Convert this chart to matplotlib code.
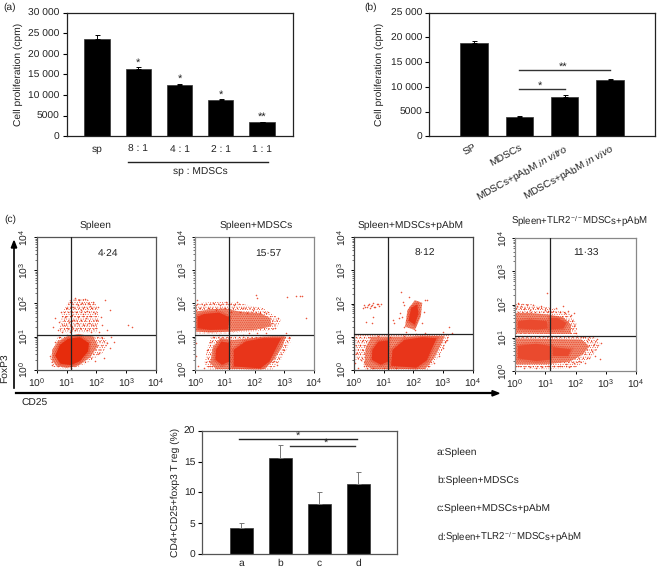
import matplotlib
matplotlib.use('Agg')
import matplotlib.pyplot as plt

plt.rcParams['font.family'] = ['Liberation Sans', 'DejaVu Sans']
plt.rcParams['font.size'] = 7.4
plt.rcParams['text.hinting'] = 'none'
plt.rcParams['mathtext.fontset'] = 'custom'
plt.rcParams['mathtext.rm'] = 'Liberation Sans'
plt.rcParams['mathtext.it'] = 'Liberation Sans:italic'
plt.rcParams['mathtext.default'] = 'rm'
plt.rcParams['hatch.linewidth'] = 0.3

W, H = 657, 570
TXT = '#222222'
RED = '#e62c0c'

# panel a
a_labels = ['sp', '8 : 1', '4 : 1', '2 : 1', '1 : 1']
a_values = [23700, 16400, 12450, 8800, 3450]
a_errors = [800, 300, 250, 200, 100]
a_stars = ['', '*', '*', '*', '**']
a_ticks = [0, 5000, 10000, 15000, 20000, 25000, 30000]
a_ticklabels = ['0', '5000', '10 000', '15 000', '20 000', '25 000', '30 000']

# panel b
b_labels = ['SP', 'MDSCs', r'MDSCs+pAbM $\mathit{in\ vitro}$', r'MDSCs+pAbM $\mathit{in\ vivo}$']
b_values = [18850, 3950, 7900, 11300]
b_errors = [500, 200, 450, 200]
b_ticks = [0, 5000, 10000, 15000, 20000, 25000]
b_ticklabels = ['0', '5000', '10 000', '15 000', '20 000', '25 000']

# bottom panel
d_labels = ['a', 'b', 'c', 'd']
d_values = [4.2, 15.6, 8.1, 11.3]
d_errors = [0.9, 2.1, 1.9, 2.0]
d_legend = ['a:Spleen', 'b:Spleen+MDSCs', 'c:Spleen+MDSCs+pAbM', 'd:Spleen+TLR2$^{-/-}$MDSCs+pAbM']

# flow panels, traced by eye as (log10 CD25, log10 FoxP3)
# clouds are outlines at three densities, stray events are single dots
p1_sparse = [[(.75,1.12),(.85,1.7),(1.1,2.1),(1.6,2.15),(2,2),(2.1,1.5),(2,1.12)],
             [(.45,.3),(.55,.1),(.8,.03),(1.2,.03),(1.7,.2),(2.2,.5),(2.4,.8),(2.2,1.05),(1.3,1.05),(.7,1)]]
p1_mid = [[(.5,.3),(.65,.12),(1,.05),(1.4,.12),(1.8,.38),(2.05,.72),(1.9,1),(1.4,1.08),(1,1),(.7,.85),(.52,.6)]]
p1_core = [[(.62,.42),(.8,.18),(1.15,.14),(1.45,.26),(1.72,.55),(1.75,.8),(1.45,.98),(1.05,.93),(.78,.75)]]
p1_dots = [(.55,1.3),(.6,1.55),(.7,1.2),(.75,1.45),(.8,1.75),(.85,1.15),(.9,1.35),(.95,1.6),(1,1.25),(1.02,1.85),
           (1.08,1.45),(1.1,1.15),(1.12,2.05),(1.18,1.65),(1.2,1.3),(1.22,1.9),(1.25,1.5),(1.28,2.15),(1.3,1.2),
           (1.32,1.75),(1.35,1.4),(1.38,1.95),(1.4,1.6),(1.42,2.1),(1.45,1.25),(1.48,1.8),(1.5,1.5),(1.52,2),
           (1.55,1.68),(1.58,1.35),(1.6,1.9),(1.62,2.12),(1.65,1.55),(1.68,1.2),(1.7,1.78),(1.72,2.02),(1.75,1.42),
           (1.78,1.92),(1.8,1.62),(1.82,1.15),(1.85,1.85),(1.88,1.35),(1.9,2.05),(1.95,1.7),(2,1.5),(2,1.25),(2.05,1.9),
           (2.1,1.15),(2.15,1.6),(2.2,1.35),(2.3,2.1),(2.35,1.2),(2.45,1.8),(2.5,1),(2.2,.95),(2.35,.8),(2.45,.65),
           (2.6,.85),(2.1,.5),(2.25,.35),(1.95,.25),(3.05,1.35),(3.2,1.28),(.5,.15),(.45,.4),(.62,.85),(.75,1),(1,1.05)]

p2_sparse = [[(0,1.1),(1.2,1.1),(2.7,1.2),(2.9,1.5),(2.3,1.85),(1.5,2),(.8,2.05),(0,2)],
             [(.3,.15),(.5,0),(2.6,0),(2.9,.3),(3.2,.8),(3.3,1.05),(.55,1.05),(.4,.6)]]
p2_mid = [[(0,1.15),(.5,1.12),(1.2,1.15),(2,1.2),(2.55,1.3),(2.55,1.55),(2.2,1.7),(1.5,1.75),(1,1.85),(.5,1.82),(0,1.75)],
          [(.5,.2),(.7,.02),(2.35,.02),(2.65,.3),(2.95,.7),(3.05,1),(2.6,1),(1.9,.95),(1.3,.9),(.85,.95),(.6,.7)]]
p2_core = [[(.08,1.25),(.5,1.2),(1.1,1.22),(1.15,1.58),(.8,1.72),(.3,1.68),(.08,1.6)],
           [(1.3,.1),(2.2,.04),(2.5,.25),(2.9,.95),(2.3,.95),(1.7,.85),(1.3,.6)],
           [(.68,.3),(.9,.15),(1.15,.25),(1.15,.8),(.88,.85),(.7,.6)]]
p2_dots = [(.03,1.8),(.05,2.1),(.04,1.95),(.15,1.85),(.3,1.95),(.45,1.85),(.6,2),(.7,1.8),(.85,1.95),(1,1.85),(1.05,2.05),
           (1.2,1.75),(1.3,1.95),(1.4,2.05),(1.5,1.75),(1.6,1.85),(1.75,1.7),(1.95,1.8),(2.05,2.25),(2.07,2.15),(2.2,1.7),(2.4,1.72),
           (2.6,1.4),(2.7,1.25),(2.8,1.55),(3.05,1.1),(3.1,2.2),(3.4,2.22),(3.55,2.23),(3.62,2.22),(3.75,1.55),
           (.3,.05),(.1,.1),(.5,.1),(.4,.6),(.45,.25),(.5,.85),(.6,1),(.8,1.05),(1.15,1),(1.6,1.05),(1.8,1.1),(2.1,1.1),(2.4,1.1),
           (.03,.4),(.02,.8),(2.75,.15),(2.65,.25),(3,.6),(3.15,.95)]

p3_sparse = [[(.25,.3),(.4,0),(2.5,0),(2.85,.4),(3.2,.95),(3.2,1.08),(.05,1.05),(.02,.3)]]
p3_mid = [[(1.72,1.3),(2.05,1.2),(2.25,1.6),(2.3,2.02),(2.05,2.1),(1.8,1.8)],
          [(.35,.15),(.6,.02),(2.4,.02),(2.7,.35),(2.98,.85),(3.05,1.02),(2.5,1.02),(1.7,1),(.6,1),(.4,.7)]]
p3_core = [[(1.84,1.48),(2.05,1.36),(2.17,1.7),(2.13,1.97),(1.93,1.87)],
           [(1.25,.12),(2.1,.06),(2.45,.28),(2.78,.95),(2.3,.98),(1.7,.9),(1.3,.6)],
           [(.6,.3),(.9,.15),(1.15,.25),(1.15,.88),(.82,.85),(.62,.6)]]
p3_dots = [(.3,1.85),(.35,1.95),(.45,1.9),(.5,2),(.55,1.85),(.62,1.95),(.65,2.03),(.72,1.9),(.8,1.98),(.9,2),(.4,1.45),(.65,1.6),(.6,1.4),
           (1.3,1.5),(1.35,1.4),(1.5,1.55),(1.55,1.7),(1.62,1.6),(1.6,2.35),(1.65,2.05),(1.7,1.95),(1.68,1.3),(1.75,1.15),(1.85,2.2),(2.05,1.2),(2.3,1.4),
           (2.35,1.75),(2.4,2.1),(2.45,2.12),(3.2,1.3),(3,1.15),(3.3,1.1),(.38,1.88),(.48,1.96),(.58,1.92),(.68,1.88),(.76,1.97),(.85,1.93),
           (.05,.2),(.1,.5),(.15,.05),(.2,.75),(.25,.3),(.3,.6),(.35,.1),(.3,.9),(.45,.05),(.55,1),(.8,1.03),(1.2,1),(1.7,1.02),(2.1,1.08),(2.4,1.1),
           (.65,.05),(1,.05),(1.4,.05),(2.5,.1),(2.7,.2),(2.85,.4),(3,.65),(3.15,.9),(3.05,.85)]

p4_sparse = [[(0,1.08),(2.05,1.08),(2.05,1.4),(1.8,1.75),(1.2,1.9),(.6,2),(0,2.05)],
             [(0,.1),(1,.05),(2,.1),(2.5,.4),(2.85,.8),(2.6,1.02),(0,1.02)]]
p4_mid = [[(0,1.14),(1,1.12),(1.85,1.12),(1.85,1.4),(1.6,1.62),(1.1,1.7),(.5,1.75),(0,1.75)],
          [(0,.2),(1,.2),(1.8,.28),(2.25,.5),(2.45,.75),(2.2,.95),(0,.98)]]
p4_core = [[(1.15,1.25),(1.6,1.28),(1.7,1.45),(1.4,1.6),(1.15,1.6)],
           [(.1,1.28),(.7,1.25),(1.08,1.28),(1.05,1.5),(.5,1.55),(.1,1.5)],
           [(.1,.38),(.7,.3),(1.15,.34),(1.2,.75),(.7,.82),(.1,.76)],
           [(1.25,.45),(1.75,.45),(1.85,.65),(1.25,.72)]]
p4_dots = [(.05,1.95),(.1,2.05),(.2,1.95),(.3,1.88),(.4,2),(.5,1.85),(.6,1.98),(.75,1.9),(.85,1.95),(1,1.85),(1.1,1.8),(1.25,1.8),(1.35,1.9),(1.5,1.78),(1.58,1.95),
           (1.65,1.75),(1.75,1.8),(1.85,1.7),(1.9,1.5),(1.95,1.35),(2,1.15),(2.05,1.05),(1.95,1.75),(1.05,2.35),
           (.1,.15),(.3,.1),(.5,.12),(.7,.1),(.9,.12),(1.1,.15),(1.3,.15),(1.5,.15),(1.7,.2),(1.8,.12),(1.95,.25),(2.1,.3),(2.3,.25),(2.45,.4),(2.55,.6),(2.6,.8),(2.7,.95),
           (2.65,.45),(2.85,.85),(2.8,.35),(2.4,.95),(2.25,1.02)]

flow_titles = ['Spleen', 'Spleen+MDSCs', 'Spleen+MDSCs+pAbM', 'Spleen+TLR2$^{-/-}$MDSCs+pAbM']
flow_pct = ['4·24', '15·57', '8·12', '11·33']
flow_gates = [(1.16, 1.045), (1.15, 1.035), (1.157, 1.068), (1.157, 1.045)]
flow_clouds = [(p1_sparse, p1_mid, p1_core, p1_dots), (p2_sparse, p2_mid, p2_core, p2_dots),
               (p3_sparse, p3_mid, p3_core, p3_dots), (p4_sparse, p4_mid, p4_core, p4_dots)]
flow_boxes = [(36.7, 156, 237, 369.7), (195.3, 313.7, 237, 369.7), (354, 472.7, 237.3, 369.7), (515, 636, 238.3, 371)]
flow_title_pos = [(96, 225), (256, 225), (411, 225), (579, 221)]
flow_pct_pos = [(108, 253), (268, 253), (425, 253), (586, 253)]
flow_frame = ['#555555', '#888888', '#444444', '#888888']
core_colors = ['#e62c0c', '#e8351a', '#e8351a', '#ea4a2e']


fig = plt.figure(figsize=(W / 100, H / 100), dpi=100)


def px_axes(left, right, top, bottom):
    return fig.add_axes([left / W, 1 - bottom / H, (right - left) / W, (bottom - top) / H])


def ftext(x, y, s, **kw):
    kw.setdefault('ha', 'center')
    kw.setdefault('va', 'center')
    kw.setdefault('color', TXT)
    fig.text(x / W, 1 - y / H, s, **kw)


def bars(ax, values, errors, width, ecolor='black'):
    xs = list(range(len(values)))
    ax.bar(xs, values, width=width, color='black', edgecolor='#333333', linewidth=0.5)
    ax.errorbar(xs, values, yerr=[[0] * len(errors), errors], fmt='none', ecolor=ecolor,
                elinewidth=0.7, capsize=1.8, capthick=0.7)
    for s in ax.spines.values():
        s.set_linewidth(0.9)
        s.set_color('#222222')
    ax.tick_params(axis='y', length=3, width=0.8, pad=2, labelcolor=TXT)
    ax.tick_params(axis='x', length=0, labelcolor=TXT)


def fill_decades(ax, polys, **kw):
    kw.setdefault('linewidth', 0)
    for poly in polys:
        ax.fill([10 ** p[0] for p in poly], [10 ** p[1] for p in poly], zorder=2, **kw)


# (a)
ax = px_axes(66.7, 293.3, 12.7, 136.3)
bars(ax, a_values, a_errors, 0.61)
ax.set_xlim(-0.735, 4.76)
ax.set_ylim(0, 30000)
ax.set_yticks(a_ticks)
ax.set_yticklabels(a_ticklabels)
ax.set_xticks(range(5))
ax.set_xticklabels(a_labels)
ax.tick_params(axis='x', pad=6)
ax.set_ylabel('Cell proliferation (cpm)', color=TXT, labelpad=4)
for i in range(5):
    if a_stars[i]:
        ax.text(i, a_values[i] + a_errors[i] - 100, a_stars[i], ha='center', va='bottom', fontsize=8, color=TXT)
ax.plot([0.75, 4.15], [-0.208, -0.208], color='#222222', lw=1, clip_on=False, transform=ax.get_xaxis_transform())
ftext(200, 172.7, 'sp : MDSCs')
ftext(10, 7, '(a)')

# (b)
ax = px_axes(429, 655, 12.7, 136.3)
bars(ax, b_values, b_errors, 0.6)
ax.set_xlim(-0.99, 3.99)
ax.set_ylim(0, 25000)
ax.set_yticks(b_ticks)
ax.set_yticklabels(b_ticklabels)
ax.set_xticks(range(4))
ax.set_xticklabels(b_labels, rotation=29, ha='right', rotation_mode='anchor')
ax.tick_params(axis='x', pad=5)
ax.set_ylabel('Cell proliferation (cpm)', color=TXT, labelpad=5)
ax.plot([1, 2], [9570, 9570], color='#333333', lw=1)
ax.plot([1, 3], [13480, 13480], color='#333333', lw=1)
ax.text(1.46, 9200, '*', ha='center', va='bottom', fontsize=8, color=TXT)
ax.text(1.97, 13100, '**', ha='center', va='bottom', fontsize=8, color=TXT)
ftext(371, 7, '(b)')

# (c) flow plots
for i in range(4):
    left, right, top, bottom = flow_boxes[i]
    ax = px_axes(left, right, top, bottom)
    sparse, mid, core, dots = flow_clouds[i]
    fill_decades(ax, sparse, facecolor='none', edgecolor=RED, hatch='....')
    fill_decades(ax, sparse, facecolor='none', edgecolor=RED, hatch='.......')
    fill_decades(ax, mid, facecolor='#f08c74', edgecolor=RED, hatch='.........')
    fill_decades(ax, core, facecolor=core_colors[i], edgecolor=core_colors[i], linewidth=3, alpha=0.35)
    fill_decades(ax, core, facecolor=core_colors[i])
    ax.scatter([10 ** p[0] for p in dots], [10 ** p[1] for p in dots], s=1.3, color=RED,
               alpha=0.8, linewidths=0, zorder=2)
    ax.set_xscale('log')
    ax.set_yscale('log')
    ax.set_xlim(1, 10000)
    ax.set_ylim(1, 10000)
    ax.set_xticks([1, 10, 100, 1000, 10000])
    ax.set_yticks([1, 10, 100, 1000, 10000])
    ax.set_xticklabels(['$10^{%d}$' % k for k in range(5)])
    ax.set_yticklabels(['$10^{%d}$' % k for k in range(5)], rotation=90, va='center')
    ax.tick_params(which='major', length=2.5, width=0.7, pad=2, labelcolor=TXT)
    ax.tick_params(which='minor', length=1.3, width=0.4)
    gx, gy = flow_gates[i]
    ax.axvline(10 ** gx, color='#222222', lw=0.9, zorder=3)
    ax.axhline(10 ** gy, color='#222222', lw=0.9, zorder=3)
    for s in ax.spines.values():
        s.set_linewidth(0.9)
        s.set_color(flow_frame[i])
    ftext(flow_title_pos[i][0], flow_title_pos[i][1], flow_titles[i], fontsize=6.95 if i == 3 else 7.4)
    ftext(flow_pct_pos[i][0], flow_pct_pos[i][1], flow_pct[i])

ftext(10, 219, '(c)')
ftext(5, 368, 'FoxP3', rotation=90)
ftext(35, 403, 'CD25')
fig.add_artist(plt.Line2D([14 / W, 14 / W], [1 - 388 / H, 1 - 246 / H], color='black', lw=1.2))
fig.add_artist(plt.Line2D([16 / W, 494 / W], [1 - 393.3 / H, 1 - 393.3 / H], color='black', lw=1.6))
fig.patches.append(plt.Polygon([(14 / W, 1 - 241 / H), (11.3 / W, 1 - 248 / H), (16.7 / W, 1 - 248 / H)],
                               transform=fig.transFigure, color='black', figure=fig))
fig.patches.append(plt.Polygon([(499 / W, 1 - 393.3 / H), (492 / W, 1 - 390.6 / H), (492 / W, 1 - 396 / H)],
                               transform=fig.transFigure, color='black', figure=fig))

# bottom bars
ax = px_axes(202.3, 397.3, 430.7, 554.3)
bars(ax, d_values, d_errors, 0.6, ecolor='#777777')
ax.set_xlim(-1, 4)
ax.set_ylim(0, 20)
ax.set_yticks([0, 5, 10, 15, 20])
ax.set_xticks(range(4))
ax.set_xticklabels(d_labels)
ax.tick_params(axis='x', pad=3)
ax.set_ylabel('CD4+CD25+foxp3 T reg (%)', color=TXT, labelpad=3)
for s in ax.spines.values():
    s.set_color('#555555')
ax.plot([-0.07, 2.97], [18.65, 18.65], color='#222222', lw=1)
ax.plot([1.24, 2.92], [17.57, 17.57], color='#333333', lw=1)
ax.text(1.45, 18.3, '*', ha='center', va='bottom', fontsize=8, color=TXT)
ax.text(2.17, 17.2, '*', ha='center', va='bottom', fontsize=8, color=TXT)
for i, y in enumerate([452, 480, 508, 537]):
    ftext(437, y, d_legend[i], ha='left', fontsize=6.95 if i == 3 else 7.4)

fig.savefig('out.png', dpi=100)
